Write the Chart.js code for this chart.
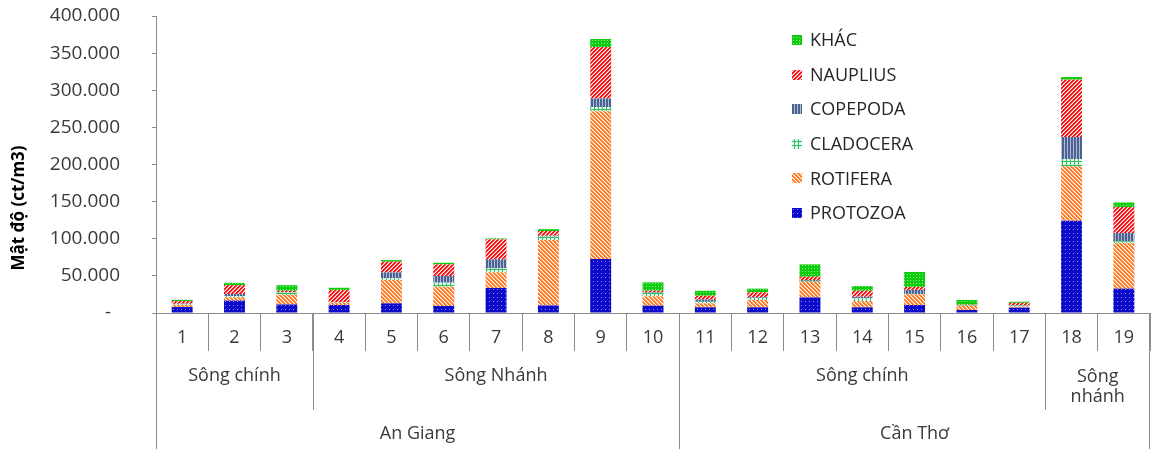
<!DOCTYPE html>
<html lang="vi">
<head>
<meta charset="utf-8">
<title>Mật độ động vật nổi</title>
<script src="https://cdn.jsdelivr.net/npm/chart.js@4/dist/chart.umd.min.js"></script>
<style>
  html, body { margin: 0; padding: 0; background: #ffffff; }
  #wrap { width: 1152px; height: 449px; position: relative; }
</style>
</head>
<body>
<div id="wrap"><canvas id="chart"></canvas></div>
<script>
// Sampling stations
const categories = ['1','2','3','4','5','6','7','8','9','10','11','12','13','14','15','16','17','18','19'];

// Density by group (ct/m3)
const protozoa  = [8000, 16600, 11500, 10800, 13000, 9400, 33700, 10300, 72700, 9900, 7600, 7600, 21100, 7600, 10800, 4000, 7200, 124300, 32800];
const rotifera  = [3000, 4500, 13000, 3100, 31400, 26000, 21100, 88000, 198900, 12600, 5400, 9900, 21100, 8500, 14400, 5800, 1500, 73200, 61500];
const cladocera = [800, 1500, 3000, 500, 2200, 5400, 5400, 4800, 5800, 4600, 2200, 2700, 1000, 3600, 500, 300, 1200, 9900, 2200];
const copepoda  = [800, 3000, 500, 300, 8100, 9000, 12100, 1000, 11700, 800, 3100, 1000, 1200, 2200, 5400, 500, 500, 29600, 11200];
const nauplius  = [3500, 12000, 2000, 16200, 14400, 15700, 26900, 6300, 69100, 2200, 4900, 6700, 4500, 8100, 4000, 500, 3300, 77200, 35000];
const khac      = [1500, 3000, 7500, 3100, 2200, 2200, 1400, 2700, 10800, 11200, 6700, 4900, 16600, 6300, 20200, 6400, 1600, 3600, 6300];

const seriesNames = ['PROTOZOA', 'ROTIFERA', 'CLADOCERA', 'COPEPODA', 'NAUPLIUS', 'KHÁC'];

// Y axis ticks
const yTicks = [0, 50000, 100000, 150000, 200000, 250000, 300000, 350000, 400000];

// Station grouping below the axis
const riverGroups = [
  { label: ['Sông chính'], first: 0, last: 2 },
  { label: ['Sông Nhánh'], first: 3, last: 9 },
  { label: ['Sông chính'], first: 10, last: 16 },
  { label: ['Sông', 'nhánh'], first: 17, last: 18 }
];
const provinceGroups = [
  { label: 'An Giang', first: 0, last: 9 },
  { label: 'Cần Thơ', first: 10, last: 18 }
];

const FONT = '"Open Sans", "DejaVu Sans", sans-serif';
const TEXT = '#3a3a3a';
const LINE = '#8c8c8c';

// Small tiled fills for each series
function makePattern(size, painter) {
  const c = document.createElement('canvas');
  c.width = size; c.height = size;
  const g = c.getContext('2d');
  painter(g, size);
  return g.createPattern(c, 'repeat');
}
function px(g, x, y, col) { g.fillStyle = col; g.fillRect(x, y, 1, 1); }

const fills = {
  protozoa: makePattern(4, (g, s) => {
    g.fillStyle = '#0a0ac8'; g.fillRect(0, 0, s, s);
    px(g, 1, 1, '#8f8fff');
  }),
  rotifera: makePattern(4, (g, s) => {
    for (let y = 0; y < s; y++) for (let x = 0; x < s; x++) {
      const k = ((x - y) % 4 + 4) % 4;
      px(g, x, y, k < 2 ? '#ff7a22' : (k === 2 ? '#ffb27a' : '#ffffff'));
    }
  }),
  cladocera: makePattern(4, (g, s) => {
    g.fillStyle = '#e6f7ec'; g.fillRect(0, 0, s, s);
    g.fillStyle = '#2fbf5f';
    g.fillRect(0, 1, s, 1);
    g.fillRect(2, 0, 1, s);
  }),
  copepoda: makePattern(3, (g, s) => {
    g.fillStyle = '#aebbd6'; g.fillRect(0, 0, s, s);
    g.fillStyle = '#4d6291'; g.fillRect(0, 0, 2, s);
  }),
  nauplius: makePattern(4, (g, s) => {
    for (let y = 0; y < s; y++) for (let x = 0; x < s; x++) {
      const k = (x + y) % 4;
      px(g, x, y, k < 2 ? '#ff1010' : (k === 2 ? '#ff8c8c' : '#ffffff'));
    }
  }),
  khac: makePattern(3, (g, s) => {
    g.fillStyle = '#10cc10'; g.fillRect(0, 0, s, s);
    px(g, 1, 1, '#8cf08c');
  })
};

const seriesData = [protozoa, rotifera, cladocera, copepoda, nauplius, khac];
const seriesFill = [fills.protozoa, fills.rotifera, fills.cladocera, fills.copepoda, fills.nauplius, fills.khac];

const datasets = seriesNames.map((name, i) => ({
  label: name,
  data: seriesData[i],
  backgroundColor: seriesFill[i],
  borderWidth: 0,
  categoryPercentage: 1.0,
  barPercentage: 0.4
}));

// Dot as thousands separator; the zero tick gets an accounting-style dash drawn separately
function fmtThousands(v) {
  if (v === 0) return '';
  return String(v).replace(/\B(?=(\d{3})+(?!\d))/g, '.');
}

// Vertical legend in the upper right of the plot
const columnLegend = {
  id: 'columnLegend',
  afterDraw(chart) {
    const ctx = chart.ctx;
    const ds = chart.data.datasets;
    ctx.save();
    ctx.font = '18px ' + FONT;
    ctx.textBaseline = 'middle';
    ctx.textAlign = 'left';
    for (let k = 0; k < ds.length; k++) {
      const d = ds[ds.length - 1 - k];
      const y = 40 + k * 34.6;
      ctx.fillStyle = d.backgroundColor;
      ctx.fillRect(792, Math.round(y - 5), 10, 10);
      ctx.fillStyle = '#262626';
      ctx.fillText(d.label, 810, y + 1);
    }
    ctx.restore();
  }
};

// Grouped category headers under the x axis, the zero dash and the y axis title
const groupHeaders = {
  id: 'groupHeaders',
  afterDraw(chart) {
    const ctx = chart.ctx;
    const xs = chart.scales.x;
    const ys = chart.scales.y;
    const area = chart.chartArea;
    const step = xs.width / categories.length;
    const edge = i => xs.getPixelForValue(i) - step / 2;
    const base = area.bottom;
    ctx.save();
    ctx.strokeStyle = LINE;
    ctx.lineWidth = 1;
    ctx.fillStyle = TEXT;
    ctx.font = '18px ' + FONT;
    ctx.textAlign = 'center';
    ctx.textBaseline = 'middle';

    const vline = (x, y2) => {
      const xx = Math.round(x) + 0.5;
      ctx.beginPath(); ctx.moveTo(xx, base); ctx.lineTo(xx, y2); ctx.stroke();
    };

    riverGroups.forEach(g => {
      vline(edge(g.first), 410);
      const cx = (edge(g.first) + edge(g.last + 1)) / 2;
      if (g.label.length === 1) {
        ctx.fillText(g.label[0], cx, 376);
      } else {
        g.label.forEach((t, j) => ctx.fillText(t, cx, 377 + j * 20));
      }
    });
    provinceGroups.forEach(g => {
      vline(edge(g.first), chart.height);
      const cx = (edge(g.first) + edge(g.last + 1)) / 2;
      ctx.fillText(g.label, cx, 434);
    });
    vline(edge(categories.length) - 1, chart.height);

    // zero tick dash
    ctx.font = '19px ' + FONT;
    ctx.textAlign = 'right';
    ctx.fillText('-', ys.right - 45, ys.getPixelForValue(0));

    // y axis title
    ctx.textAlign = 'center';
    ctx.translate(19, 208);
    ctx.rotate(-Math.PI / 2);
    ctx.font = 'bold 17px ' + FONT;
    ctx.fillStyle = '#000000';
    ctx.fillText('Mật độ (ct/m3)', 0, 0);
    ctx.restore();
  }
};

new Chart(document.getElementById('chart'), {
  type: 'bar',
  data: { labels: categories, datasets },
  options: {
    responsive: true,
    maintainAspectRatio: false,
    animation: false,
    events: [],
    layout: { padding: { top: 16, right: 2, left: 0, bottom: 0 } },
    plugins: {
      legend: { display: false },
      tooltip: { enabled: false },
      title: { display: false }
    },
    scales: {
      x: {
        stacked: true,
        offset: true,
        grid: {
          offset: true,
          drawOnChartArea: false,
          drawTicks: true,
          tickLength: 38,
          color: LINE
        },
        border: { display: true, color: LINE },
        ticks: {
          color: TEXT,
          font: { family: FONT, size: 18 },
          padding: -24,
          maxRotation: 0,
          autoSkip: false
        },
        afterFit(scale) { scale.height = 136; }
      },
      y: {
        stacked: true,
        min: 0,
        max: 400000,
        afterBuildTicks(scale) { scale.ticks = yTicks.map(v => ({ value: v })); },
        grid: {
          drawOnChartArea: false,
          drawTicks: true,
          tickLength: 4,
          color: LINE
        },
        border: { display: true, color: LINE },
        ticks: {
          color: TEXT,
          font: { family: FONT, size: 19 },
          padding: 32,
          callback: v => fmtThousands(v)
        },
        afterFit(scale) {
          scale.width = 156;
          scale.paddingTop = 10;
          scale.paddingBottom = 10;
        }
      }
    }
  },
  plugins: [groupHeaders, columnLegend]
});
</script>
</body>
</html>
